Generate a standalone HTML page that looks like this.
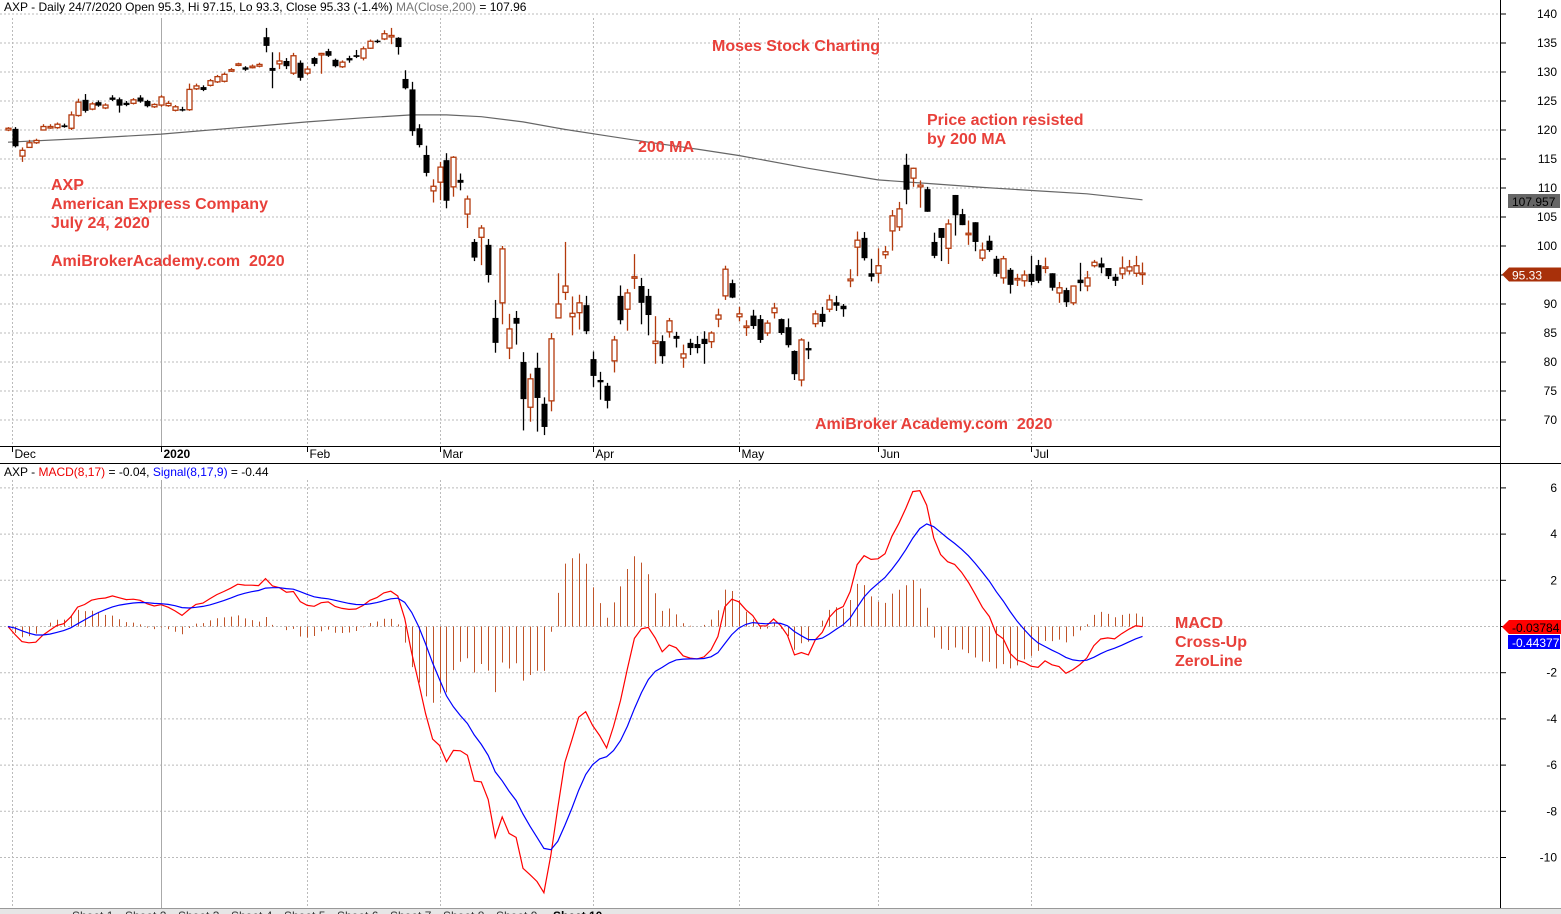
<!DOCTYPE html>
<html><head><meta charset="utf-8">
<style>
html,body{margin:0;padding:0;background:#fff;}
svg{display:block;font-family:"Liberation Sans",Arial,sans-serif;}
.ann{fill:#e8403a;font-weight:bold;font-size:16px;white-space:pre;}
</style></head>
<body>
<svg id="chart" width="1561" height="914" viewBox="0 0 1561 914" xmlns="http://www.w3.org/2000/svg">
<rect x="0" y="0" width="1561" height="914" fill="#fff"/>
<g id="grid"></g>
<g id="ma"></g>
<g id="candles"></g>
<g id="macd"></g>
<g id="axes"></g>
<text x="4" y="11" font-size="12" fill="#000">AXP - Daily 24/7/2020 Open 95.3, Hi 97.15, Lo 93.3, Close 95.33 (-1.4%) <tspan fill="#777">MA(Close,200)</tspan> = 107.96</text>
<text x="4" y="476" font-size="12" fill="#000">AXP - <tspan fill="#e00">MACD(8,17)</tspan> = -0.04, <tspan fill="#00f">Signal(8,17,9)</tspan> = -0.44</text>
<text class="ann" x="712" y="51">Moses Stock Charting</text>
<text class="ann" x="927" y="125">Price action resisted</text>
<text class="ann" x="927" y="144">by 200 MA</text>
<text class="ann" x="638" y="152">200 MA</text>
<text class="ann" x="51" y="190">AXP</text>
<text class="ann" x="51" y="209">American Express Company</text>
<text class="ann" x="51" y="228">July 24, 2020</text>
<text class="ann" x="51" y="266">AmiBrokerAcademy.com&#160; 2020</text>
<text class="ann" x="815" y="429">AmiBroker Academy.com&#160; 2020</text>
<text class="ann" x="1175" y="628">MACD</text>
<text class="ann" x="1175" y="647">Cross-Up</text>
<text class="ann" x="1175" y="666">ZeroLine</text>
<g id="badges"></g>
<g id="tabs"></g>
</svg>
<script>
const opens=[120,120.2,115.5,117,117.8,120,120.4,120.4,120.8,120.3,122.5,125.2,123.6,124.8,123.8,125.6,125.3,124.7,124.6,125.6,125,124,
124.3,124.2,123.4,123.6,123.5,127.1,127.4,127.7,128.3,128.4,130.2,131.2,130.8,130.8,131,136,130.7,131.4,131.9,129.8,131.6,
129.8,132.4,133,133.6,132.1,130.9,132.4,132.9,132.4,134.1,135.4,135.7,136.2,135.9,128.8,127,120.3,115.7,109.5,111,114.8,110.2,111.4,105.5,100.7,101.5,100.2,87.6,90.2,82.4,87.6,80,72.2,79,72.8,73.3,87.6,92,87.8,88.5,89.8,
80.5,76.9,75.9,80.2,91.4,89.1,94.5,93.1,91.4,83.2,83.6,85.2,84.5,80.7,83.3,83.1,84,83.5,87.4,91.4,93.6,
87.8,86,88,87.4,85,88.5,87.4,86,81.9,76.9,82.4,86.6,88.3,89.1,90.3,89.7,94,99.8,101.4,95.3,
95.3,98.5,102.6,103.3,114,111.7,110.2,109.8,100.7,103.1,99.6,108.8,105.5,102.1,104.1,97.9,100.9,97.8,94.5,95.9,94.3,94,
95.2,96.7,96.3,95.3,91.9,92.4,90.2,94.2,93.1,96.6,97,96.2,94.7,95.2,95.7,95.3,95.3];
const highs=[120.5,120.5,117,118.3,118.5,121,121,121.3,121.1,123.2,125.4,126.2,124.8,125.1,124.6,126,125.6,125,125.5,126,125.2,124.6,
126,125,124.3,124,128,128,127.7,128.8,129.5,129.9,130.7,131.6,131,131.3,131.6,137.6,133.4,133.4,132.4,133.3,132,
131,132.6,133.3,134,132.3,132,132.8,133.8,134.4,135.6,135.6,137.2,137.6,136,130.3,128.3,121,117.3,111.5,114.5,116,115.5,112.5,108.7,101.2,103.6,101.2,90.7,100,88.3,88.8,81.7,78,81.6,73.9,85,95.3,100.7,91.3,91.6,91.4,
81.8,78.3,76.4,84.5,93.2,92.6,98.6,94.5,92.6,87.9,84.6,87.6,85.2,83,84,84.5,85.3,85.3,89.2,96.6,94.2,
89.5,87.2,89,88.1,87.2,90.2,87.5,87.5,82,84.1,83.5,88.9,89.5,91.6,91.4,90,96,102.5,102.4,97.8,
99.6,100,106.2,107.6,115.9,113.5,111.3,110.2,102.3,103.1,104.6,108.8,106.4,104.4,104.1,100.6,101.8,98.3,98.3,96.2,95.2,95.8,
98.3,97.6,98,95.3,93.8,92.8,93.1,97.1,95.7,97.6,98,96.2,95.2,98.2,97.6,98.3,97.15];
const lows=[119.8,117,114.5,117,117.6,120,120.2,120.2,120.4,120,122.3,123,123.4,124,123.6,125,123,124.1,124.4,124.7,123.9,123.8,
124,124,123.2,123.2,123.3,126.9,126.7,127.5,128.1,128.2,130,131,130.2,130.6,130.8,133.4,127.2,130.5,130.5,129.5,128.5,
129.5,131,129.7,132.6,130.8,130.7,131.6,132.4,132,134,135,135.5,134.8,133,127,119,117,112,107.5,107.9,106.5,108.5,109.6,103.1,97.4,96.7,93.7,81.6,86.5,80.5,83,68.2,69.7,68,67.4,71.5,87.5,90.7,84.6,85.6,84.8,
75.7,73.5,72,78.2,86.5,85.4,92.6,86.5,84.6,79.7,79.7,84.2,82.5,79,81.2,81.5,79.7,82.4,86,90.7,91,
87,84.5,85.7,83.3,84.5,87.5,84.7,82.5,76.9,75.8,80.5,86,86.1,88.6,88.8,87.8,92.9,94.8,97.5,93.9,
93.6,97.8,99.2,102.6,107.2,110.2,106.6,105.9,97.9,97.4,96.9,101.8,103.6,100.2,99.1,97.4,99,94.7,93.5,91.8,93.1,93,
93.2,93.6,95.3,92.3,90.2,89.5,89.8,92.2,92.2,96.3,95.3,94.3,93.1,94.3,95.1,94.7,93.3];
const closes=[120.3,117.2,116.5,117.8,118.2,120.6,120.6,121,120.5,122.6,124.8,123.3,124.5,124.2,124.3,125.2,124.2,124.3,125.2,124.9,124.1,124.4,
125.7,124.6,124,123.4,127,127.6,126.9,128.5,129.2,129.6,130.4,131.4,130.4,131,131.3,134.5,130.2,131.9,131,132.8,129,
130.5,131.4,133.2,132.8,131,131.7,132,132.6,134,135.3,135.2,136.6,136.3,134.3,127.2,119.8,117.4,112.6,110.3,113.6,107.8,115.3,110.9,108.1,98,103.1,95,83.3,99.5,85.7,86.6,73.6,77.1,73.8,68.8,84,90,93.1,88.4,90.2,85.3,
77.6,76.5,73.3,83.8,87.2,91.9,94.7,90.2,88.1,83.6,81,87.1,84,81.4,82.4,82.4,83.1,85,88.1,96,91.1,
88.3,86.2,86.2,83.8,86.7,89.3,85,82.9,77.9,83.8,82,88.3,86.9,90.7,89.7,89.1,94.3,101,97.9,94.7,
96.6,99,105.2,106.4,109.7,113.4,110.5,105.9,98.3,101.4,103.8,105.3,103.6,102.2,100.7,99.3,99.3,95.2,97.8,93.3,94.4,95,
93.8,94,96.4,92.8,92.8,90.3,93.1,93.6,94.5,97.2,96.3,94.8,94,96.2,96.4,96.6,95.33];
// 200-day MA samples (bar index, value)
const maIdx=[0,12,22,33,43,51,58,63,68,74,80,86,92,99,105,115,125,133,140,148,155,163];
const maVal=[117.9,118.6,119.3,120.4,121.4,122.1,122.6,122.6,122.3,121.4,120.1,119.0,117.9,116.7,115.6,113.4,111.4,110.7,110.1,109.5,109.0,107.96];
const priceTicks=[140,135,130,125,120,115,110,105,100,95,90,85,80,75,70];
const macdTicks=[6,4,2,0,-2,-4,-6,-8,-10];
const monthLabels=["Dec","2020","Feb","Mar","Apr","May","Jun","Jul"];
const monthIdx=[0.6,22,43,62,84,105,125,147];

const NS="http://www.w3.org/2000/svg";
function el(tag,attrs,parent){const e=document.createElementNS(NS,tag);for(const k in attrs)e.setAttribute(k,attrs[k]);parent.appendChild(e);return e;}
const xS=i=>8+i*6.96;
const yP=p=>14+(140-p)*5.8;
const yM=v=>626.5-v*23.1;
const G=document.getElementById('grid'),A=document.getElementById('axes');

priceTicks.forEach(t=>{const l=el('line',{x1:0,x2:1500,y1:yP(t),y2:yP(t),stroke:'#bbb','stroke-dasharray':'2,2'},G);
});
macdTicks.forEach(t=>{const l=el('line',{x1:0,x2:1500,y1:yM(t),y2:yM(t),stroke:'#bbb','stroke-dasharray':'2,2'},G);
});
monthIdx.forEach((m,k)=>{const x=Math.round(xS(m))+0.5;
const solid=monthLabels[k]==="2020";
const l=el('line',{x1:x,x2:x,y1:18,y2:446,stroke:solid?'#aaa':'#bbb','stroke-dasharray':solid?'none':'2,2'},G);

const l2=el('line',{x1:x,x2:x,y1:480,y2:908,stroke:solid?'#aaa':'#bbb','stroke-dasharray':solid?'none':'2,2'},G);

const tk=el('line',{x1:x,x2:x,y1:446,y2:452,stroke:'#000'},A);

const t=el('text',{x:x+2,y:458,'font-size':12,fill:'#000','font-weight':solid?'bold':'normal'},A);
t.textContent=monthLabels[k];
});

[[0,446.5,1500,446.5],[0,463.5,1561,463.5],[1500.5,0,1500.5,908]].forEach(c=>{const l=el('line',{x1:c[0],y1:c[1],x2:c[2],y2:c[3],stroke:'#000'},A);
});
priceTicks.forEach(t=>{const y=yP(t);
const tk=el('line',{x1:1500,x2:1506,y1:y,y2:y,stroke:'#000'},A);
const tx=el('text',{x:1557,y:y+4,'font-size':12,'text-anchor':'end',fill:'#000'},A);tx.textContent=t;
});
macdTicks.forEach(t=>{const y=yM(t);
const tk=el('line',{x1:1500,x2:1506,y1:y,y2:y,stroke:'#000'},A);
const tx=el('text',{x:1557,y:y+4,'font-size':12,'text-anchor':'end',fill:'#000'},A);tx.textContent=t;
});

const maPts=maIdx.map((i,k)=>xS(i).toFixed(1)+','+yP(maVal[k]).toFixed(1)).join(' ');
const mal=el('polyline',{points:maPts,fill:'none',stroke:'#666','stroke-width':1.2,'stroke-linejoin':'round'},document.getElementById('ma'));


const C=document.getElementById('candles');
closes.forEach((c,i)=>{const o=opens[i],x=Math.round(xS(i));const up=c>=o;const col=up?'#b33a0d':'#000';
const g=el('g',{},C);
el('line',{x1:x+0.5,x2:x+0.5,y1:yP(highs[i]),y2:yP(lows[i]),stroke:col,'stroke-width':1.3},g);
const top=yP(Math.max(o,c)),bot=yP(Math.min(o,c));const h=Math.max(1.5,bot-top);
if(up)el('rect',{x:x-2,y:top,width:5,height:h,fill:'#fff',stroke:col,'stroke-width':1.3},g);
else el('rect',{x:x-2.5,y:top,width:6,height:h,fill:'#000'},g);});

function ema(arr,n){const k=2/(n+1);const out=[];let v=arr[0];arr.forEach((a,i)=>{v=i?a*k+v*(1-k):a;out.push(v);});return out;}
const e8=ema(closes,8),e17=ema(closes,17);
const macdLine=e8.map((v,i)=>v-e17[i]);
const sigLine=ema(macdLine,9);
const M=document.getElementById('macd');
macdLine.forEach((m,i)=>{const h=m-sigLine[i];const x=Math.round(xS(i))+0.5;
const b=el('line',{x1:x,x2:x,y1:yM(0),y2:yM(h),stroke:'#c0552a','stroke-width':1},M);
});
const pr=el('polyline',{points:macdLine.map((v,i)=>xS(i).toFixed(1)+','+yM(v).toFixed(1)).join(' '),fill:'none',stroke:'#f00','stroke-width':1.2},M);

const pb=el('polyline',{points:sigLine.map((v,i)=>xS(i).toFixed(1)+','+yM(v).toFixed(1)).join(' '),fill:'none',stroke:'#00f','stroke-width':1.2},M);


const B=document.getElementById('badges');
function badge(y,txt,bg,fg,arrow,name){const g=el('g',{},B);
if(arrow)el('polygon',{points:`1502,${y} 1509,${y-7} 1509,${y+7}`,fill:bg},g);
el('rect',{x:arrow?1509:1508,y:y-7,width:52,height:14,fill:bg},g);
const t=el('text',{x:1512,y:y+5,'font-size':12,fill:fg},g);t.textContent=txt;}
badge(201,'107.957','#666','#000',false,'ma-value-badge');
badge(274.5,'95.33','#a8300a','#fff',true,'close-value-badge');
badge(627,'-0.03784','#f00','#000',true,'macd-value-badge');
badge(642,'-0.44377','#00f','#fff',false,'signal-value-badge');

const T=document.getElementById('tabs');
el('rect',{x:0,y:908,width:1561,height:6,fill:'#e6e6e6'},T);
el('line',{x1:0,x2:1561,y1:908.5,y2:908.5,stroke:'#999'},T);
const tabNames=["Sheet 1","Sheet 2","Sheet 3","Sheet 4","Sheet 5","Sheet 6","Sheet 7","Sheet 8","Sheet 9"];
tabNames.forEach((n,k)=>{const t=el('text',{x:72+k*53,y:920,'font-size':12,fill:'#333'},T);t.textContent=n;
});
const st=el('text',{x:553,y:920,'font-size':12,'font-weight':'bold',fill:'#000'},T);st.textContent="Sheet 10";

</script>
</body></html>
